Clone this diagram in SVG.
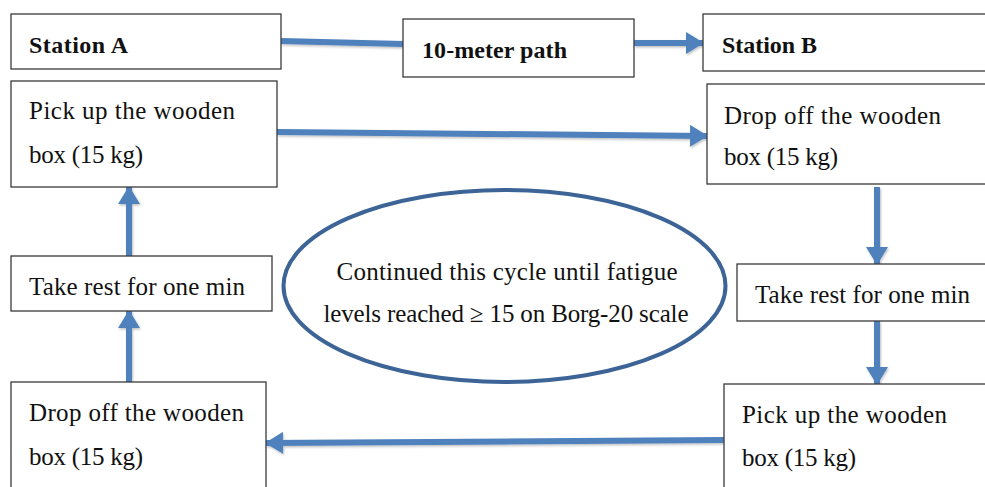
<svg xmlns="http://www.w3.org/2000/svg" width="985" height="487" viewBox="0 0 985 487">
<style>
.box{fill:#fff;stroke:#3a3a3a;stroke-width:1.3}
.t{font-family:"Liberation Serif","Times New Roman",serif;font-size:25px;fill:#111}
.b{font-family:"Liberation Serif","Times New Roman",serif;font-size:24px;font-weight:bold;fill:#111}
.c{fill:none;stroke:#4f81bd;stroke-width:6;filter:url(#sh)}
</style>
<defs>
<filter id="sh" filterUnits="userSpaceOnUse" x="0" y="0" width="985" height="487">
<feDropShadow dx="1" dy="1.5" stdDeviation="1" flood-color="#000" flood-opacity="0.25"/>
</filter>
<marker id="ah" viewBox="0 0 18 22" refX="17" refY="11" markerWidth="18" markerHeight="22" markerUnits="userSpaceOnUse" orient="auto">
<path d="M0,0 L18,11 L0,22 z" fill="#4f81bd"/>
</marker>
</defs>
<rect width="985" height="487" fill="#fff"/>
<g id="connectors">
<path class="c" d="M281,41 L403,44"/>
<path class="c" d="M634,43 L703,43" marker-end="url(#ah)"/>
<path class="c" d="M277,132 L707,136" marker-end="url(#ah)"/>
<path class="c" d="M877,187 L877,264" marker-end="url(#ah)"/>
<path class="c" d="M877,321 L877,384" marker-end="url(#ah)"/>
<path class="c" d="M724,440 L266,443" marker-end="url(#ah)"/>
<path class="c" d="M129,382 L129,311" marker-end="url(#ah)"/>
<path class="c" d="M129,256 L129,187" marker-end="url(#ah)"/>
</g>
<g id="stationA">
<rect class="box" x="11" y="14" width="270" height="55"/>
<text class="b" x="29" y="53" textLength="99">Station A</text>
</g>
<g id="path10">
<rect class="box" x="403" y="19" width="231" height="58"/>
<text class="b" x="422" y="58" textLength="145">10-meter path</text>
</g>
<g id="stationB">
<rect class="box" x="703" y="14" width="300" height="57"/>
<text class="b" x="722" y="53" textLength="95">Station B</text>
</g>
<g id="pickupA">
<rect class="box" x="11" y="81" width="266" height="106"/>
<text class="t" x="29" y="119" textLength="206">Pick up the wooden</text>
<text class="t" x="29" y="163" textLength="114">box (15 kg)</text>
</g>
<g id="dropoffB">
<rect class="box" x="707" y="84" width="300" height="100"/>
<text class="t" x="724" y="124" textLength="217">Drop off the wooden</text>
<text class="t" x="724" y="165" textLength="114">box (15 kg)</text>
</g>
<g id="restA">
<rect class="box" x="11" y="256" width="261" height="55"/>
<text class="t" x="29" y="295" textLength="216">Take rest for one min</text>
</g>
<g id="restB">
<rect class="box" x="737" y="264" width="270" height="57"/>
<text class="t" x="755" y="303" textLength="215">Take rest for one min</text>
</g>
<g id="dropoffA">
<rect class="box" x="11" y="382" width="255" height="120"/>
<text class="t" x="29" y="421" textLength="215">Drop off the wooden</text>
<text class="t" x="29" y="465" textLength="114">box (15 kg)</text>
</g>
<g id="pickupB">
<rect class="box" x="724" y="384" width="290" height="120"/>
<text class="t" x="742" y="423" textLength="205">Pick up the wooden</text>
<text class="t" x="742" y="466" textLength="114">box (15 kg)</text>
</g>
<g id="cycle">
<ellipse cx="504.5" cy="286" rx="221" ry="96" fill="#fff" stroke="#3c6496" stroke-width="4"/>
<text class="t" x="507" y="280" text-anchor="middle" textLength="341">Continued this cycle until fatigue</text>
<text class="t" x="506" y="322" text-anchor="middle" textLength="365">levels reached ≥ 15 on Borg-20 scale</text>
</g>
</svg>
